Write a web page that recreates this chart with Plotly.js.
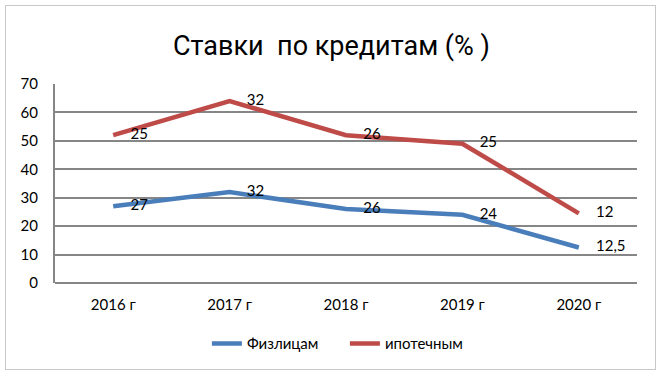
<!DOCTYPE html>
<html><head><meta charset="utf-8">
<script src="https://cdn.plot.ly/plotly-3.0.1.min.js"></script>
<style>
body{margin:0;background:#fff;}
#wrap{position:relative;width:663px;height:377px;}
#chart{position:absolute;left:0;top:0;width:663px;height:377px;}
#frame{position:absolute;left:5px;top:5px;width:649px;height:363px;border:1px solid #c8c8c8;pointer-events:none;}
</style></head>
<body><div id="wrap"><div id="chart"></div><div id="frame"></div></div>
<script>
const categories = ["2016 г","2017 г","2018 г","2019 г","2020 г"];
const fizlicam = [27, 32, 26, 24, 12.5];
const ipotechnym = [25, 32, 26, 25, 12];
const seriesNames = ["Физлицам", "ипотечным"];
const fmt = v => String(v).replace('.', ',');

const common = {
  x: categories, type: 'scatter', stackgroup: 'one', fill: 'none',
  mode: 'lines+markers+text', textposition: 'middle right',
  textfont: {family: 'Lato, sans-serif', size: 15, color: '#000'},
  marker: {size: 26, color: 'rgba(0,0,0,0)', line: {width: 0}}, hoverinfo: 'skip'
};
const data = [
  Object.assign({}, common, {name: seriesNames[0], y: fizlicam, text: fizlicam.map(fmt),
    line: {color: '#4a7ebb', width: 4.5}}),
  Object.assign({}, common, {name: seriesNames[1], y: ipotechnym, text: ipotechnym.map(fmt),
    line: {color: '#be4b48', width: 4.5}})
];
const layout = {
  width: 663, height: 377,
  margin: {l: 55, r: 26, t: 84, b: 94},
  paper_bgcolor: '#fff', plot_bgcolor: '#fff',
  title: {text: 'Ставки  по кредитам (% )', font: {family: 'Roboto, sans-serif', size: 27, color: '#000'},
    x: 0.5, xanchor: 'center', y: 0.88, yanchor: 'middle'},
  xaxis: {type: 'category', range: [-0.5, 4.5], showgrid: false, zeroline: false,
    showline: false, ticks: '', tickfont: {family: 'Lato, sans-serif', size: 15, color: '#000'},
    ticklabelstandoff: 11},
  yaxis: {range: [0, 70], dtick: 10, showgrid: true, gridcolor: '#868686', gridwidth: 2,
    zeroline: true, zerolinecolor: '#868686', zerolinewidth: 2,
    showline: true, linecolor: '#868686', linewidth: 2, ticks: '',
    tickfont: {family: 'Lato, sans-serif', size: 15, color: '#000'}, ticklabelstandoff: 12},
  showlegend: true,
  legend: {orientation: 'h', x: 0.261, xanchor: 'left', y: -0.305, yanchor: 'middle',
    font: {family: 'Lato, sans-serif', size: 15, color: '#000'}, traceorder: 'normal',
    entrywidth: 93, entrywidthmode: 'pixels'}
};
Plotly.newPlot('chart', data, layout, {staticPlot: true});
</script></body></html>
